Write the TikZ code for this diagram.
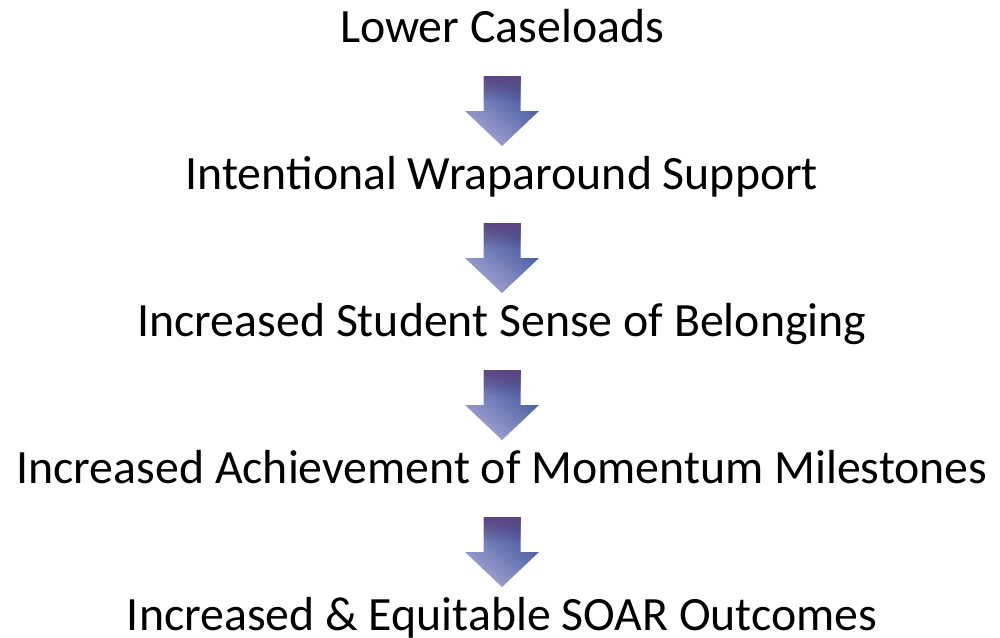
\documentclass[tikz,border=0pt]{standalone}
\usepackage{fontspec}
\setmainfont{Carlito}
\usetikzlibrary{positioning}
\usetikzlibrary{fadings}
\definecolor{arrowPurple}{RGB}{94,70,128}
\definecolor{arrowBlue}{RGB}{58,80,152}
\definecolor{arrowLight}{RGB}{165,166,212}
\tikzfading[name=topFade, top color=transparent!0, bottom color=transparent!100]
\tikzset{
    objText/.style={inner sep=0pt, text height=0.7em, text depth=0.25em, font=\fontsize{23.9pt}{28pt}\selectfont},
    downArrow/.pic={
      \shade[bottom color=arrowLight, top color=arrowBlue, shading angle=-40]
        (-9.25pt,17.5pt) -- (9.25pt,17.5pt) -- (9.25pt,0pt) -- (18.5pt,0pt) -- (0pt,-17.5pt) -- (-18.5pt,0pt) -- (-9.25pt,0pt) -- cycle;
      \fill[arrowPurple, path fading=topFade]
        (-9.25pt,17.5pt) rectangle (9.25pt,5pt);
    }
}

\begin{document}
\begin{tikzpicture}[node distance=73.5pt]
  \useasboundingbox (0pt,0pt) rectangle (500pt,-318.5pt);
  \node (lower) [objText, anchor=base] at (251pt,-21pt) {Lower Caseloads};
  \node (wrap) [objText, below of=lower] {Intentional Wraparound Support};
  \node (belong) [objText, below of=wrap] {Increased Student Sense of Belonging};
  \node (momentum) [objText, below of=belong] {Increased Achievement of Momentum Milestones};
  \node (soar) [objText, below of=momentum] {Increased \& Equitable SOAR Outcomes};

  \path (lower) -- (wrap) pic[midway] {downArrow};
  \path (wrap) -- (belong) pic[midway] {downArrow};
  \path (belong) -- (momentum) pic[midway] {downArrow};
  \path (momentum) -- (soar) pic[midway] {downArrow};
\end{tikzpicture}
\end{document}
